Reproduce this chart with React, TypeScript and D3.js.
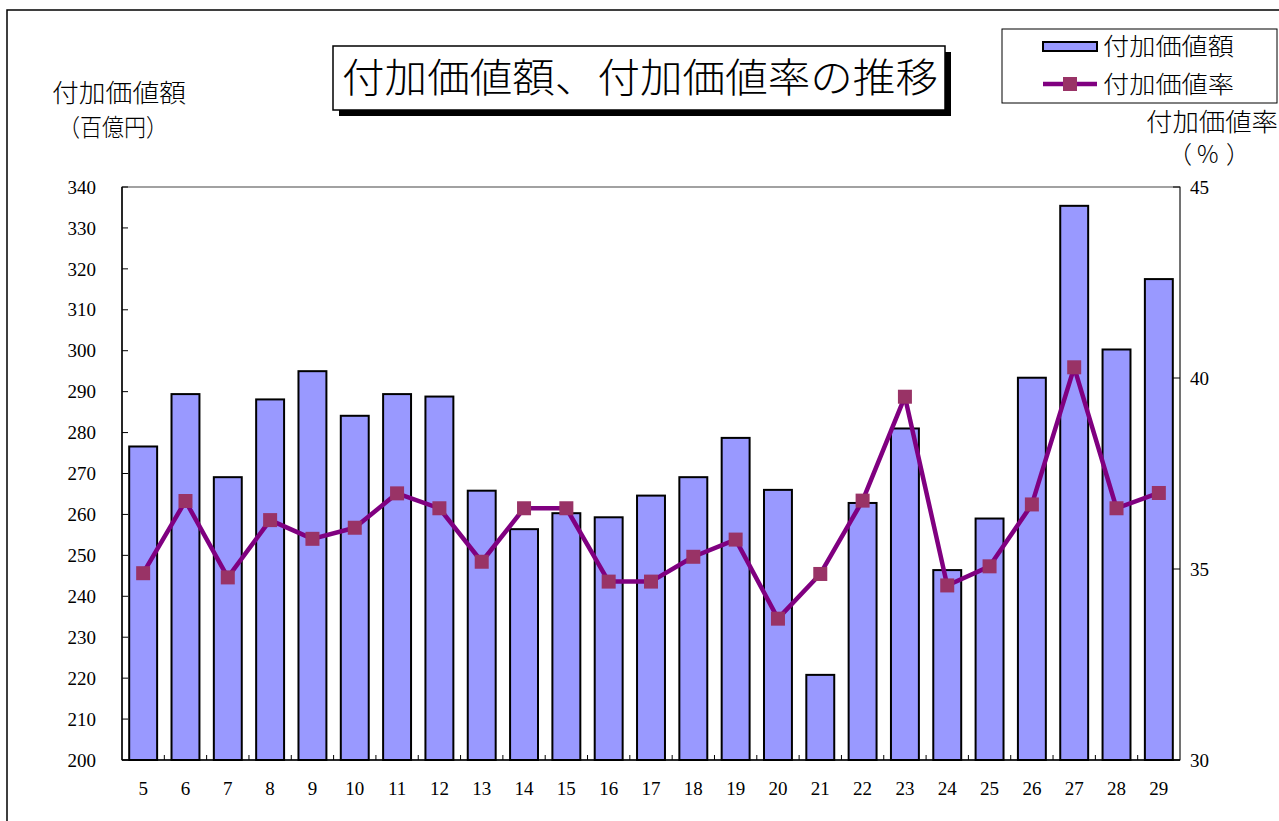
import React from 'react';
import * as d3 from 'd3';

// 年度（平成）
const years = ['5', '6', '7', '8', '9', '10', '11', '12', '13', '14', '15', '16', '17',
  '18', '19', '20', '21', '22', '23', '24', '25', '26', '27', '28', '29'];

// 付加価値額（百億円）
const valueAdded = [276.6, 289.4, 269.1, 288.1, 295.0, 284.1, 289.4, 288.8, 265.8, 256.4,
  260.3, 259.3, 264.6, 269.1, 278.7, 266.0, 220.8, 262.8, 281.0, 246.4, 259.0, 293.4,
  335.4, 300.3, 317.5];

// 付加価値率（%）
const valueAddedRate = [34.89, 36.78, 34.78, 36.28, 35.79, 36.08, 36.98, 36.59, 35.19,
  36.59, 36.59, 34.67, 34.67, 35.32, 35.77, 33.70, 34.87, 36.79, 39.51, 34.57, 35.07,
  36.69, 40.28, 36.59, 36.99];

const leftTicks = [200, 210, 220, 230, 240, 250, 260, 270, 280, 290, 300, 310, 320, 330, 340];
const rightTicks = [30, 35, 40, 45];

const W = 1279;
const H = 821;
const plot = { left: 122, right: 1180, top: 187, bottom: 760 };

const cjk = '"Noto Sans CJK JP", "Noto Sans", sans-serif';
const num = '"Liberation Serif", "DejaVu Serif", serif';

export default function App() {
  const x = d3.scaleBand<string>()
    .domain(years)
    .range([plot.left, plot.right])
    .paddingInner(0.34)
    .paddingOuter(0.17);
  const yL = d3.scaleLinear().domain([200, 340]).range([plot.bottom, plot.top]);
  const yR = d3.scaleLinear().domain([30, 45]).range([plot.bottom, plot.top]);

  const step = x.step();
  const cx = (d: string) => (x(d) as number) + x.bandwidth() / 2;

  const line = d3.line<number>()
    .x((_, i) => cx(years[i]))
    .y(d => yR(d));

  return (
    <svg width={W} height={H} style={{ position: 'absolute', left: 0, top: 0, background: '#fff' }}>
      {/* outer frame */}
      <path d={`M7,${H + 5} V10 H${W + 5}`} fill="none" stroke="#000" strokeWidth={1.5} />

      {/* title */}
      <rect x={339} y={52} width={612} height={64} fill="#000" />
      <rect x={333} y={46} width={612} height={64} fill="#fff" stroke="#000" strokeWidth={1.5} />
      <text x={342} y={92} fontFamily={cjk} fontSize={40} fontWeight={300}
        textLength={596} lengthAdjust="spacingAndGlyphs">付加価値額、付加価値率の推移</text>

      {/* axis titles */}
      <text x={52} y={102} fontFamily={cjk} fontSize={25} fontWeight={300}
        textLength={134} lengthAdjust="spacingAndGlyphs">付加価値額</text>
      <text x={58} y={136} fontFamily={cjk} fontSize={24} fontWeight={300}
        textLength={110} lengthAdjust="spacingAndGlyphs">（百億円）</text>
      <text x={1146} y={131} fontFamily={cjk} fontSize={25} fontWeight={300}
        textLength={132} lengthAdjust="spacingAndGlyphs">付加価値率</text>
      <text y={163} fontFamily={cjk} fontSize={24} fontWeight={300}>
        <tspan x={1168}>（</tspan>
        <tspan x={1197}>%</tspan>
        <tspan x={1226}>）</tspan>
      </text>

      {/* legend */}
      <rect x={1002} y={29} width={275} height={74} fill="#fff" stroke="#000" strokeWidth={1} />
      <rect x={1043} y={42} width={54} height={9} fill="#9999FF" stroke="#000" strokeWidth={2} />
      <text x={1103} y={55} fontFamily={cjk} fontSize={24} fontWeight={300}
        textLength={131} lengthAdjust="spacingAndGlyphs">付加価値額</text>
      <line x1={1043} x2={1097} y1={84} y2={84} stroke="#800080" strokeWidth={4.5} />
      <rect x={1063} y={77} width={14} height={14} fill="#993366" />
      <text x={1103} y={93} fontFamily={cjk} fontSize={24} fontWeight={300}
        textLength={131} lengthAdjust="spacingAndGlyphs">付加価値率</text>

      {/* plot frame */}
      <rect x={plot.left} y={plot.top} width={plot.right - plot.left} height={plot.bottom - plot.top}
        fill="#fff" stroke="#444" strokeWidth={1} />

      {/* bars */}
      {years.map((d, i) => (
        <rect key={d} x={x(d)} y={yL(valueAdded[i])} width={x.bandwidth()}
          height={yL(200) - yL(valueAdded[i])} fill="#9999FF" stroke="#000" strokeWidth={2} />
      ))}

      {/* left axis */}
      <line x1={plot.left} x2={plot.left} y1={plot.top} y2={plot.bottom} stroke="#000" strokeWidth={1.5} />
      {leftTicks.map(t => (
        <g key={t}>
          <line x1={plot.left} x2={plot.left + 6} y1={yL(t)} y2={yL(t)} stroke="#000" strokeWidth={1} />
          <text x={96} y={yL(t)} dy="0.35em" textAnchor="end" fontFamily={num} fontSize={19}>{t}</text>
        </g>
      ))}

      {/* right axis */}
      <line x1={plot.right} x2={plot.right} y1={plot.top} y2={plot.bottom} stroke="#444" strokeWidth={1} />
      {rightTicks.map(t => (
        <g key={t}>
          <line x1={plot.right - 7} x2={plot.right} y1={yR(t)} y2={yR(t)} stroke="#000" strokeWidth={1} />
          <text x={1190} y={yR(t)} dy="0.35em" textAnchor="start" fontFamily={num} fontSize={19}>{t}</text>
        </g>
      ))}

      {/* bottom axis */}
      <line x1={plot.left} x2={plot.right} y1={plot.bottom} y2={plot.bottom} stroke="#000" strokeWidth={1.5} />
      {years.slice(1).map(d => (
        <line key={d} x1={(x(d) as number) - step * 0.17} x2={(x(d) as number) - step * 0.17}
          y1={plot.bottom} y2={plot.bottom - 5} stroke="#000" strokeWidth={1} />
      ))}
      {years.map(d => (
        <text key={d} x={cx(d)} y={788} dy="0.35em" textAnchor="middle" fontFamily={num} fontSize={19}>{d}</text>
      ))}

      {/* rate line */}
      <path d={line(valueAddedRate) || ''} fill="none" stroke="#800080" strokeWidth={4.5} strokeLinejoin="round" />
      {valueAddedRate.map((v, i) => (
        <rect key={i} x={cx(years[i]) - 7} y={yR(v) - 7} width={14} height={14} fill="#993366" />
      ))}
    </svg>
  );
}
